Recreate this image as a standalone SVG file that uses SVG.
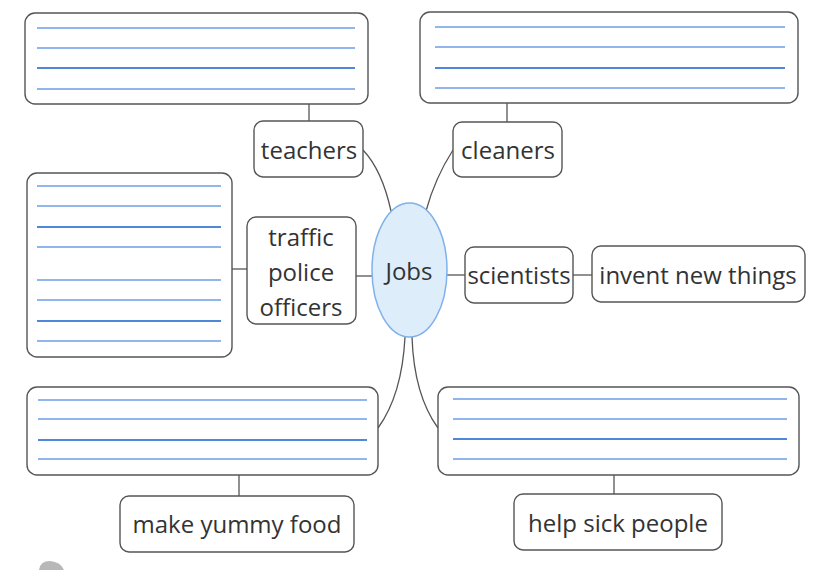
<svg xmlns="http://www.w3.org/2000/svg" width="825" height="570" viewBox="0 0 825 570">
<style>
.box{fill:#fff;stroke:#555;stroke-width:1.4}
.ln{stroke:#6d9ee6;stroke-width:1.3}
.lt{stroke:#4f88da;stroke-width:1.9}
.con{fill:none;stroke:#555;stroke-width:1.3}
.t{font-family:"Open Sans","Noto Sans",sans-serif;font-size:24px;fill:#333;text-anchor:middle}
</style>
<rect width="825" height="570" fill="#fff"/>
<g id="connectors">
<line class="con" x1="309" y1="104" x2="309" y2="121"/>
<line class="con" x1="507" y1="103" x2="507" y2="122"/>
<line class="con" x1="232" y1="269" x2="247" y2="269"/>
<line class="con" x1="356" y1="276" x2="372" y2="276"/>
<line class="con" x1="447" y1="275" x2="465" y2="275"/>
<line class="con" x1="573" y1="275" x2="592" y2="275"/>
<line class="con" x1="239" y1="475" x2="239" y2="496"/>
<line class="con" x1="614" y1="475" x2="614" y2="494"/>
<path class="con" d="M363,150 Q382,170 391,211"/>
<path class="con" d="M453,150 Q435,178 426,211"/>
<path class="con" d="M405,337 Q402,395 378,428"/>
<path class="con" d="M412,337 Q414,395 438,428"/>
</g>
<g id="box-top-left">
<rect class="box" x="25" y="13" width="343" height="91" rx="10"/>
<line class="ln" x1="37" y1="28" x2="355" y2="28"/>
<line class="ln" x1="37" y1="48" x2="355" y2="48"/>
<line class="lt" x1="37" y1="68" x2="355" y2="68"/>
<line class="ln" x1="37" y1="89" x2="355" y2="89"/>
</g>
<g id="box-top-right">
<rect class="box" x="420" y="12" width="378" height="91" rx="10"/>
<line class="ln" x1="435" y1="27" x2="785" y2="27"/>
<line class="ln" x1="435" y1="47" x2="785" y2="47"/>
<line class="lt" x1="435" y1="68" x2="785" y2="68"/>
<line class="ln" x1="435" y1="88" x2="785" y2="88"/>
</g>
<g id="box-left">
<rect class="box" x="27" y="173" width="205" height="184" rx="10"/>
<line class="ln" x1="37" y1="186" x2="221" y2="186"/>
<line class="ln" x1="37" y1="206" x2="221" y2="206"/>
<line class="lt" x1="37" y1="227" x2="221" y2="227"/>
<line class="ln" x1="37" y1="247" x2="221" y2="247"/>
<line class="ln" x1="37" y1="280" x2="221" y2="280"/>
<line class="ln" x1="37" y1="300" x2="221" y2="300"/>
<line class="lt" x1="37" y1="321" x2="221" y2="321"/>
<line class="ln" x1="37" y1="341" x2="221" y2="341"/>
</g>
<g id="box-bottom-left">
<rect class="box" x="27" y="387" width="351" height="88" rx="10"/>
<line class="ln" x1="38" y1="400" x2="367" y2="400"/>
<line class="ln" x1="38" y1="419" x2="367" y2="419"/>
<line class="lt" x1="38" y1="440" x2="367" y2="440"/>
<line class="ln" x1="38" y1="459" x2="367" y2="459"/>
</g>
<g id="box-bottom-right">
<rect class="box" x="438" y="387" width="361" height="88" rx="10"/>
<line class="ln" x1="453" y1="399" x2="787" y2="399"/>
<line class="ln" x1="453" y1="419" x2="787" y2="419"/>
<line class="lt" x1="453" y1="439" x2="787" y2="439"/>
<line class="ln" x1="453" y1="459" x2="787" y2="459"/>
</g>
<g id="jobs">
<ellipse cx="409.5" cy="270" rx="37.5" ry="67" fill="#ddeefa" stroke="#7fb1ea" stroke-width="1.5"/>
<text class="t" x="409" y="280">Jobs</text>
</g>
<g id="teachers">
<rect class="box" x="254" y="121" width="109" height="56" rx="9"/>
<text class="t" x="309" y="159">teachers</text>
</g>
<g id="cleaners">
<rect class="box" x="453" y="122" width="109" height="55" rx="9"/>
<text class="t" x="508" y="159">cleaners</text>
</g>
<g id="traffic-police-officers">
<rect class="box" x="247" y="217" width="109" height="107" rx="9"/>
<text class="t" x="301" y="246">traffic</text>
<text class="t" x="301" y="281">police</text>
<text class="t" x="301" y="316">officers</text>
</g>
<g id="scientists">
<rect class="box" x="465" y="247" width="108" height="56" rx="9"/>
<text class="t" x="519" y="284">scientists</text>
</g>
<g id="invent-new-things">
<rect class="box" x="592" y="246" width="213" height="56" rx="9"/>
<text class="t" x="698" y="284">invent new things</text>
</g>
<g id="make-yummy-food">
<rect class="box" x="120" y="496" width="234" height="56" rx="9"/>
<text class="t" x="237" y="533">make yummy food</text>
</g>
<g id="help-sick-people">
<rect class="box" x="514" y="494" width="208" height="56" rx="9"/>
<text class="t" x="618" y="532">help sick people</text>
</g>
<path d="M39,570 Q40,561 50,561 Q61,562 64,570 Z" fill="#b8b8b8"/>
</svg>
